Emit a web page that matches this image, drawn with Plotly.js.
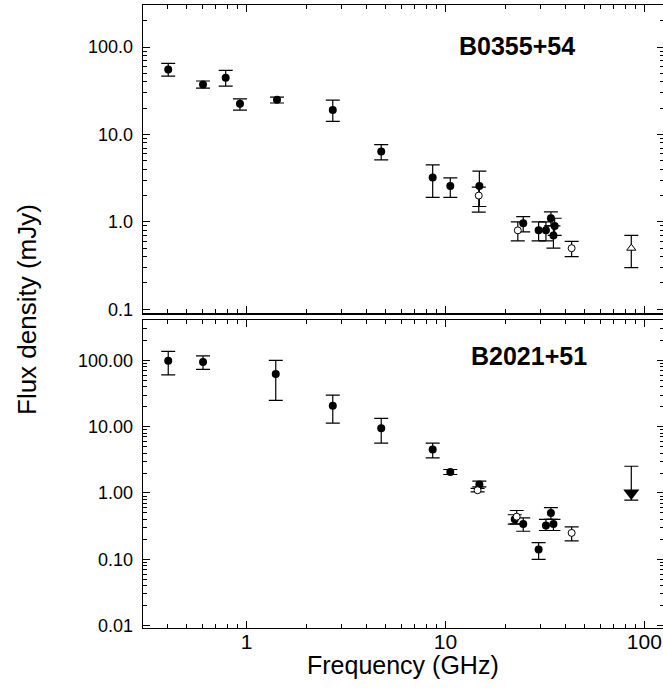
<!DOCTYPE html>
<html>
<head>
<meta charset="utf-8">
<script src="https://cdn.plot.ly/plotly-3.0.1.min.js"></script>
<style>
html,body{margin:0;padding:0;overflow:hidden;background:#fff;}
#chart{width:665px;height:690px;}
</style>
</head>
<body>
<div id="chart"></div>
<script>
// ---- B0355+54 (top panel) ----
const freqA  = [0.403, 0.603, 0.784, 0.925, 1.42, 2.71, 4.75, 8.62, 10.57, 14.8, 24.6, 29.4, 32.0, 33.9, 35.4, 34.9];
const fluxA  = [55.4, 37.3, 44.5, 22.4, 24.9, 19.1, 6.38, 3.21, 2.58, 2.58, 0.966, 0.80, 0.80, 1.10, 0.90, 0.70];
const hiA    = [64.9, 40.9, 54.0, 25.6, 26.7, 24.7, 7.67, 4.49, 3.18, 3.80, 1.15, 1.00, 1.00, 1.30, 1.10, 0.90];
const loA    = [46.6, 33.9, 35.7, 19.0, 22.9, 14.1, 5.12, 1.91, 1.91, 1.50, 0.767, 0.605, 0.605, 0.90, 0.70, 0.50];

const freqAo = [14.7, 23.1, 43.1];
const fluxAo = [2.0, 0.80, 0.50];
const hiAo   = [2.5, 1.00, 0.60];
const loAo   = [1.29, 0.605, 0.40];

const freqAt = [86.0];
const fluxAt = [0.50];
const hiAt   = [0.70];
const loAt   = [0.30];

// ---- B2021+51 (bottom panel) ----
const freqB  = [0.403, 0.603, 1.40, 2.71, 4.75, 8.62, 10.57, 14.8, 22.3, 24.6, 29.4, 32.0, 33.9, 34.9];
const fluxB  = [98.6, 94.2, 62.1, 20.7, 9.43, 4.54, 2.08, 1.34, 0.40, 0.342, 0.140, 0.323, 0.50, 0.342];
const hiB    = [136.7, 117, 100, 29.9, 13.3, 5.65, 2.26, 1.51, 0.47, 0.42, 0.179, 0.40, 0.60, 0.40];
const loB    = [60.6, 73.1, 24.9, 11.3, 5.65, 3.39, 1.90, 1.24, 0.34, 0.265, 0.100, 0.272, 0.40, 0.272];

const freqBo = [14.5, 22.8, 43.1];
const fluxBo = [1.10, 0.44, 0.25];
const hiBo   = [1.17, 0.544, 0.308];
const loBo   = [1.04, 0.342, 0.189];

const freqBl = [86.0];   // upper limit
const fluxBl = [1.0];
const hiBl   = [2.53];
const loBl   = [0.78];

// ---- ticks ----
const xTickVals = [1, 10, 100];
const xTickText = ['1', '10', '100'];
const yTopVals  = [0.1, 1, 10, 100];
const yTopText  = ['0.1', '1.0', '10.0', '100.0'];
const yBotVals  = [0.01, 0.1, 1, 10, 100];
const yBotText  = ['0.01', '0.10', '1.00', '10.00', '100.00'];
const labelA = 'B0355+54';
const labelB = 'B2021+51';

function minorLog(lo, hi) {
  const out = [];
  for (let e = lo; e <= hi; e++) for (let m = 2; m <= 9; m++) out.push(m * Math.pow(10, e));
  return out;
}

const FONT = 'Liberation Sans, Arial, sans-serif';
const BLACK = '#000';

function errTrace(x, y, hi, lo, xa, ya, marker) {
  return {
    type: 'scatter', mode: 'markers', x: x, y: y, xaxis: xa, yaxis: ya,
    marker: marker, showlegend: false, hoverinfo: 'x+y',
    error_y: {
      type: 'data', symmetric: false,
      array: hi.map((h, i) => h - y[i]),
      arrayminus: lo.map((l, i) => y[i] - l),
      color: BLACK, thickness: 1.2, width: 7
    }
  };
}

const filled = {symbol: 'circle', size: 8, color: BLACK, line: {width: 0}};
const open = {symbol: 'circle', size: 7, color: '#fff', line: {color: BLACK, width: 1}};
const triOpen = {symbol: 'triangle-up', size: 8, color: '#fff', line: {color: BLACK, width: 1}};
const triDown = {symbol: 'triangle-down', size: 14, color: BLACK, line: {width: 0}};

const data = [
  errTrace(freqA, fluxA, hiA, loA, 'x2', 'y', filled),
  errTrace(freqAo, fluxAo, hiAo, loAo, 'x2', 'y', open),
  errTrace(freqAt, fluxAt, hiAt, loAt, 'x2', 'y', triOpen),
  errTrace(freqB, fluxB, hiB, loB, 'x', 'y2', filled),
  errTrace(freqBo, fluxBo, hiBo, loBo, 'x', 'y2', open),
  errTrace(freqBl, fluxBl, hiBl, loBl, 'x', 'y2', triDown)
];

const xRange = [-0.5216, 2.099];
function xAxis(anchor, showLabels) {
  return {
    type: 'log', range: xRange, anchor: anchor, domain: [0, 1],
    tickmode: 'array', tickvals: xTickVals, ticktext: xTickText,
    ticks: 'inside', ticklen: 7, tickwidth: 1, tickcolor: BLACK,
    minor: {tickmode: 'array', tickvals: minorLog(-1, 2), ticks: 'inside', ticklen: 4, tickwidth: 1, tickcolor: BLACK, showgrid: false},
    showline: true, linecolor: BLACK, linewidth: 1.3, mirror: 'ticks',
    showgrid: false, zeroline: false,
    showticklabels: showLabels, ticklabelstandoff: -6,
    tickfont: {family: FONT, size: 21, color: BLACK}
  };
}
function yAxis(anchor, domain, range, vals, text) {
  return {
    type: 'log', range: range, anchor: anchor, domain: domain,
    tickmode: 'array', tickvals: vals, ticktext: text,
    ticks: 'inside', ticklen: 7, tickwidth: 1, tickcolor: BLACK,
    minor: {tickmode: 'array', tickvals: minorLog(-3, 2), ticks: 'inside', ticklen: 4, tickwidth: 1, tickcolor: BLACK, showgrid: false},
    showline: true, linecolor: BLACK, linewidth: 1.3, mirror: 'ticks',
    showgrid: false, zeroline: false, ticklabelstandoff: 5,
    tickfont: {family: FONT, size: 18, color: BLACK}
  };
}

const layout = {
  width: 665, height: 690,
  margin: {l: 143, r: 1, t: 5.3, b: 62.3},
  paper_bgcolor: '#fff', plot_bgcolor: '#fff',
  font: {family: FONT, color: BLACK},
  showlegend: false,
  xaxis: xAxis('y2', true),
  xaxis2: xAxis('y', false),
  yaxis: yAxis('x2', [0.5051, 1], [-1.046, 2.481], yTopVals, yTopText),
  yaxis2: yAxis('x', [0, 0.4939], [-2.036, 2.604], yBotVals, yBotText),
  annotations: [
    {text: labelA, xref: 'paper', yref: 'paper', x: (517 - 143) / 521, y: (627.7 - 46) / 622.4,
     xanchor: 'center', yanchor: 'middle', showarrow: false,
     font: {family: FONT, size: 25, color: BLACK, weight: 'bold'}},
    {text: labelB, xref: 'paper', yref: 'paper', x: (528.7 - 143) / 521, y: (627.7 - 356) / 622.4,
     xanchor: 'center', yanchor: 'middle', showarrow: false,
     font: {family: FONT, size: 25, color: BLACK, weight: 'bold'}},
    {text: 'Flux density (mJy)', xref: 'paper', yref: 'paper', x: (27 - 143) / 521, y: (627.7 - 310) / 622.4,
     xanchor: 'center', yanchor: 'middle', showarrow: false, textangle: -90,
     font: {family: FONT, size: 26, color: BLACK}},
    {text: 'Frequency (GHz)', xref: 'paper', yref: 'paper', x: (403 - 143) / 521, y: (627.7 - 665) / 622.4,
     xanchor: 'center', yanchor: 'middle', showarrow: false,
     font: {family: FONT, size: 25, color: BLACK}}
  ]
};

Plotly.newPlot('chart', data, layout, {displayModeBar: false, staticPlot: true});
</script>
</body>
</html>
